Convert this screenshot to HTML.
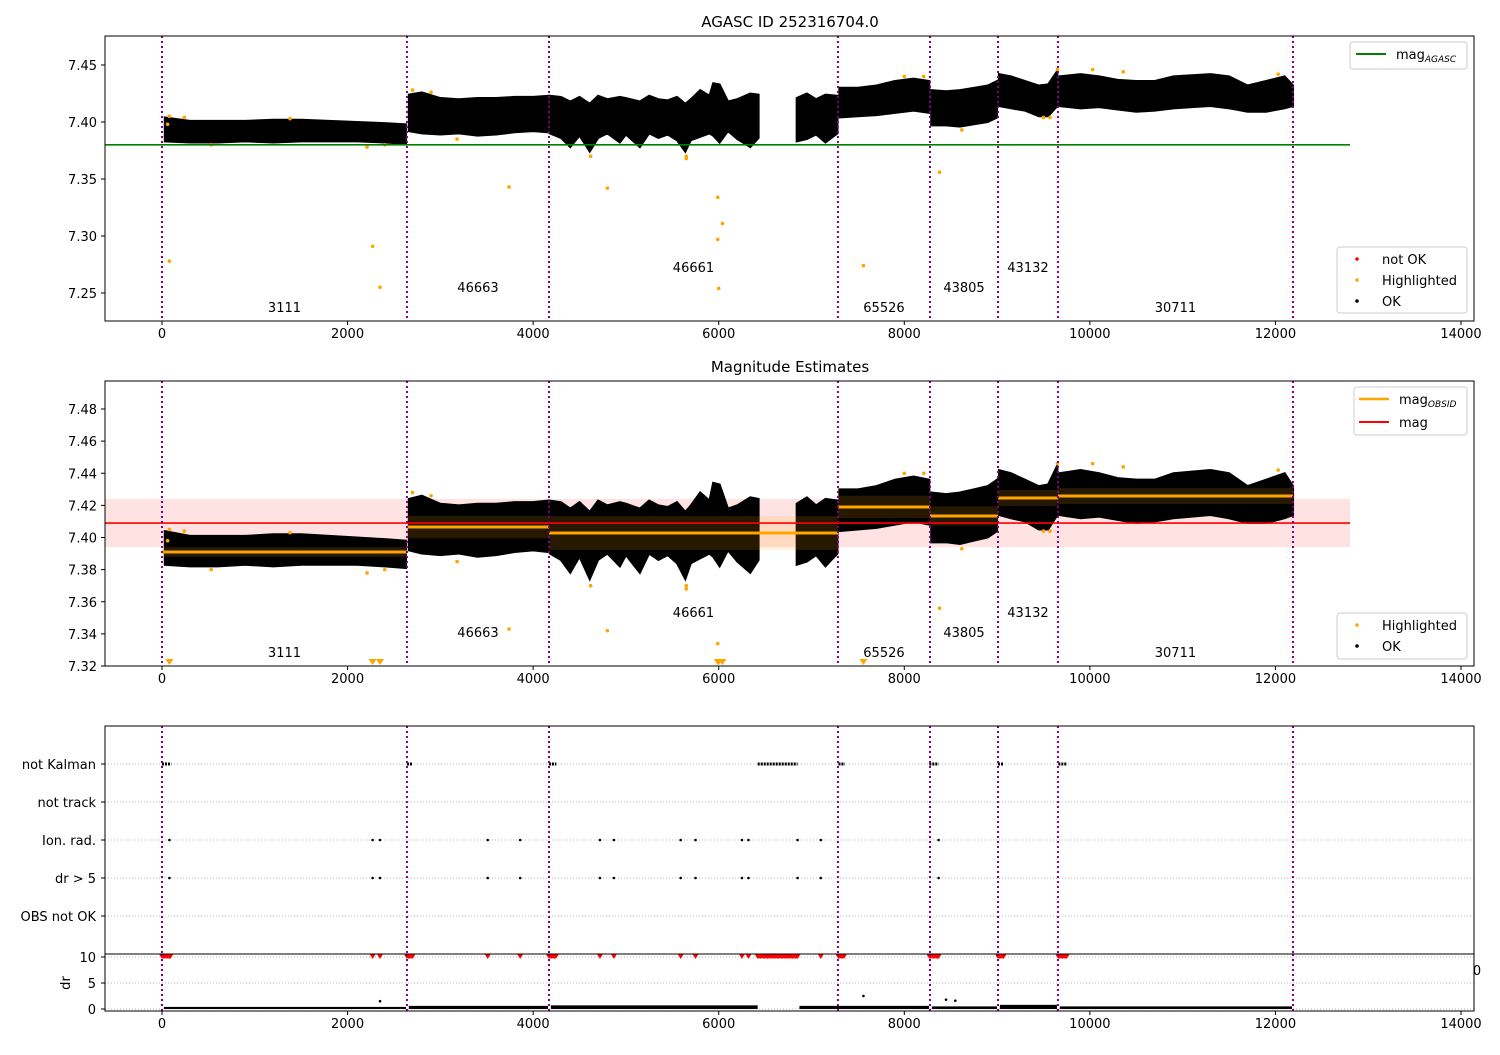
<!DOCTYPE html>
<html><head><meta charset="utf-8"><style>
html,body{margin:0;padding:0;background:#fff}
svg{font-family:"DejaVu Sans","Liberation Sans",sans-serif}
</style></head><body>
<svg id="c" width="1500" height="1050" viewBox="0 0 1500 1050" xmlns="http://www.w3.org/2000/svg"></svg>
<script>
// ---- data ----
const segT=[[30,300,600,900,1200,1500,1800,2100,2400,2630],[2660,2800,3000,3200,3400,3600,3800,4000,4160],
[4180,4300,4400,4500,4610,4700,4800,4935,5000,5150,5250,5350,5450,5550,5640,5700,5800,5900,5940,6010,6100,6200,6340,6430],
[6840,6950,7050,7150,7280],[7300,7500,7700,7900,8100,8270],[8290,8450,8600,8750,8900,9000],[9020,9150,9300,9450,9550,9650],
[9670,9900,10100,10300,10500,10700,10900,11100,11300,11500,11700,11900,12100,12190]];
const segHi=[[7.404,7.401,7.401,7.401,7.402,7.402,7.401,7.400,7.399,7.398],[7.424,7.426,7.421,7.420,7.421,7.421,7.422,7.422,7.423],
[7.423,7.422,7.418,7.422,7.416,7.423,7.420,7.422,7.421,7.418,7.423,7.420,7.419,7.422,7.416,7.420,7.428,7.423,7.434,7.433,7.418,7.420,7.425,7.424],
[7.421,7.425,7.420,7.424,7.423],[7.430,7.430,7.432,7.436,7.438,7.436],[7.428,7.427,7.428,7.430,7.432,7.436],[7.442,7.440,7.436,7.432,7.433,7.445],
[7.440,7.442,7.440,7.437,7.436,7.436,7.440,7.441,7.442,7.440,7.432,7.436,7.440,7.432]];
const segLo=[[7.383,7.382,7.382,7.383,7.382,7.383,7.383,7.383,7.382,7.381],[7.392,7.390,7.389,7.390,7.388,7.389,7.391,7.392,7.391],
[7.390,7.386,7.378,7.388,7.374,7.386,7.390,7.382,7.389,7.378,7.390,7.386,7.389,7.384,7.374,7.384,7.387,7.390,7.388,7.382,7.392,7.385,7.378,7.386],
[7.383,7.385,7.389,7.382,7.390],[7.404,7.405,7.406,7.408,7.410,7.408],[7.397,7.397,7.396,7.398,7.400,7.404],[7.414,7.412,7.410,7.405,7.405,7.414],
[7.414,7.412,7.413,7.411,7.409,7.410,7.412,7.413,7.414,7.412,7.409,7.409,7.412,7.414]];
const obsBounds=[0,2640,4171,7285,8277,9010,9656,12189];
const obsIds=["3111","46663","46661","65526","43805","43132","30711"];
const obsStart=[0,2640,4171,7285,8277,9010,9656];
const obsEnd=[2640,4171,7285,8277,9010,9656,12189];
const obsMag=[7.391,7.4065,7.4028,7.419,7.4134,7.4246,7.4258];
const obsErr=[0.003,0.007,0.0105,0.007,0.006,0.005,0.005];
const magMean=7.409, magErr=0.015, magAgasc=7.380;
const hlT=[80,80,60,2270,2350,3740,4800,5990,6040,5990,6000,7560,8380,8620,5650,5650,4620,3180,2900,2700,8210,8000,9500,9570,9650,10030,10360,12030,530,2210,2400,1380,240];
const hlM=[7.405,7.278,7.398,7.291,7.255,7.343,7.342,7.334,7.311,7.297,7.254,7.274,7.356,7.393,7.370,7.368,7.370,7.385,7.426,7.428,7.440,7.440,7.404,7.404,7.446,7.446,7.444,7.442,7.380,7.378,7.380,7.403,7.404];
const kalmanRanges=[[0,100],[2640,2700],[4170,4250],[6420,6850],[7290,7360],[8270,8370],[9010,9070],[9660,9750]];
const ionT=[80,2270,2350,3510,3860,4720,4870,5590,5750,6250,6320,6850,7100,8370];
const drSegLo=[0,0,0,0,0,0,0,0];
const drSegHi=[0.4,0.6,0.7,0.6,0.5,0.8,0.5,0.6];
const drSpikeT=[2350,7560,8450,8550];
const drSpikeV=[1.5,2.5,1.8,1.6];
const xTicks=[0,2000,4000,6000,8000,10000,12000,14000];
const y1Ticks=[7.25,7.30,7.35,7.40,7.45];
const y2Ticks=[7.32,7.34,7.36,7.38,7.40,7.42,7.44,7.46,7.48];
const flagRows=["not Kalman","not track","Ion. rad.","dr > 5","OBS not OK"];

// ---- scales ----
const L=105,R=1474;
const xs=t=>162+t*0.092786;
const y1=m=>65+(7.45-m)*1140;
const y2=m=>409+(7.48-m)*1606.25;
const fy=i=>764+i*38;
const yd=v=>1009-v*5.2;
const svg=document.getElementById('c');
const NS='http://www.w3.org/2000/svg';
function el(tag,attrs,parent){const e=document.createElementNS(NS,tag);for(const k in attrs)e.setAttribute(k,attrs[k]);(parent||svg).appendChild(e);return e;}
function txt(x,y,s,anchor,size,parent){const e=el('text',{x:x,y:y,'text-anchor':anchor||'middle','font-size':size||13,fill:'#000'},parent);e.textContent=s;return e;}

// clip paths
const defs=el('defs',{});
[[36,285,'c1'],[381,285,'c2'],[726,285,'c3']].forEach(([t,h,id])=>{const cp=el('clipPath',{id:id},defs);el('rect',{x:L,y:t,width:R-L,height:h},cp);});

function xAxis(yb,name){
  const g=el('g',{});
  
  
  xTicks.forEach(t=>{el('line',{x1:xs(t),x2:xs(t),y1:yb,y2:yb+4,stroke:'#000'},g);txt(xs(t),yb+17,String(t),'middle',13,g);});
}
function vlines(top,bot,g){obsBounds.forEach(t=>{el('line',{x1:xs(t),x2:xs(t),y1:top,y2:bot,stroke:'purple','stroke-width':2,'stroke-dasharray':'2,3'},g);});}
function band(ys,g){
  segT.forEach((ts,i)=>{
    let p=ts.map((t,j)=>xs(t)+','+ys(segHi[i][j]));
    for(let j=ts.length-1;j>=0;j--)p.push(xs(ts[j])+','+ys(segLo[i][j]));
    const e=el('polygon',{points:p.join(' '),fill:'#000',stroke:'#000','stroke-width':2},g);
    
    
  });
}
function labels(g,base){
  const off=[0,-20,-40,0,-20,-40,0];
  obsIds.forEach((s,i)=>{const t=(obsStart[i]+obsEnd[i])/2;txt(xs(t),base+off[i],s,'middle',13,g);});
}

// ---- Panel 1 ----
txt(790,27,'AGASC ID 252316704.0','middle',15);
let g1=el('g',{'clip-path':'url(#c1)'});


band(y1,g1);
hlT.forEach((t,i)=>{const c=el('circle',{cx:xs(t),cy:y1(hlM[i]),r:1.8,fill:'orange'},g1);});
el('line',{x1:L,x2:1350,y1:y1(magAgasc),y2:y1(magAgasc),stroke:'green','stroke-width':1.6},g1);
vlines(36,321,g1);
labels(g1,312);
el('rect',{x:L,y:36,width:R-L,height:285,fill:'none',stroke:'#000'});
y1Ticks.forEach(m=>{el('line',{x1:L-4,x2:L,y1:y1(m),y2:y1(m),stroke:'#000'});txt(L-8,y1(m)+5,m.toFixed(2),'end');});
xAxis(321,'x-axis-top');
// legends panel1
let lg=el('g',{});
el('rect',{x:1350,y:42,width:117,height:27,rx:3,fill:'#fff',stroke:'#ccc'},lg);
el('line',{x1:1356,x2:1386,y1:54,y2:54,stroke:'green','stroke-width':2},lg);
let t1=txt(1396,59,'mag','start',13,lg);const ts1=el('tspan',{'font-size':9,dy:3,'font-style':'italic'},t1);ts1.textContent='AGASC';
let lg2=el('g',{});
el('rect',{x:1337,y:247,width:130,height:66,rx:3,fill:'#fff',stroke:'#ccc'},lg2);
[['red','not OK',259],['orange','Highlighted',280],['#000','OK',301]].forEach(([c,s,y])=>{el('circle',{cx:1357,cy:y,r:1.8,fill:c},lg2);txt(1382,y+5,s,'start',13,lg2);});

// ---- Panel 2 ----
txt(790,372,'Magnitude Estimates','middle',15);
let g2=el('g',{'clip-path':'url(#c2)'});


el('rect',{x:L,y:y2(magMean+magErr),width:1350-L,height:y2(magMean-magErr)-y2(magMean+magErr),fill:'rgba(255,0,0,0.11)'},g2);
band(y2,g2);
obsMag.forEach((m,i)=>{el('rect',{x:xs(obsStart[i]),y:y2(m+obsErr[i]),width:xs(obsEnd[i])-xs(obsStart[i]),height:y2(m-obsErr[i])-y2(m+obsErr[i]),fill:'rgba(255,165,0,0.15)'},g2);});
obsMag.forEach((m,i)=>{const e=el('line',{x1:xs(obsStart[i]),x2:xs(obsEnd[i]),y1:y2(m),y2:y2(m),stroke:'orange','stroke-width':3},g2);});
el('line',{x1:L,x2:1350,y1:y2(magMean),y2:y2(magMean),stroke:'red','stroke-width':1.6},g2);
hlT.forEach((t,i)=>{const m=hlM[i];if(m<7.321){const x=xs(t),y=663;el('polygon',{points:`${x-4},${y-4} ${x+4},${y-4} ${x},${y+2}`,fill:'orange'},g2);}else el('circle',{cx:xs(t),cy:y2(m),r:1.8,fill:'orange'},g2);});
vlines(381,666,g2);
labels(g2,657);
el('rect',{x:L,y:381,width:R-L,height:285,fill:'none',stroke:'#000'});
y2Ticks.forEach(m=>{el('line',{x1:L-4,x2:L,y1:y2(m),y2:y2(m),stroke:'#000'});txt(L-8,y2(m)+5,m.toFixed(2),'end');});
xAxis(666,'x-axis-middle');
let lg3=el('g',{});
el('rect',{x:1354,y:387,width:113,height:48,rx:3,fill:'#fff',stroke:'#ccc'},lg3);
el('line',{x1:1359,x2:1389,y1:399,y2:399,stroke:'orange','stroke-width':2.5},lg3);
let t3=txt(1399,404,'mag','start',13,lg3);const ts3=el('tspan',{'font-size':9,dy:3,'font-style':'italic'},t3);ts3.textContent='OBSID';
el('line',{x1:1359,x2:1389,y1:422,y2:422,stroke:'red','stroke-width':2},lg3);
txt(1399,427,'mag','start',13,lg3);
let lg4=el('g',{});
el('rect',{x:1337,y:613,width:130,height:46,rx:3,fill:'#fff',stroke:'#ccc'},lg4);
[['orange','Highlighted',625],['#000','OK',646]].forEach(([c,s,y])=>{el('circle',{cx:1357,cy:y,r:1.8,fill:c},lg4);txt(1382,y+5,s,'start',13,lg4);});

// ---- Panel 3 flags ----
let g3=el('g',{});
flagRows.forEach((s,i)=>{el('line',{x1:L,x2:R,y1:fy(i),y2:fy(i),stroke:'#bbb','stroke-dasharray':'1,2'},g3);el('line',{x1:L-4,x2:L,y1:fy(i),y2:fy(i),stroke:'#000'},g3);txt(L-9,fy(i)+5,s,'end',13,g3);});
kalmanRanges.forEach(([a,b])=>{el('line',{x1:xs(a),x2:xs(b),y1:fy(0),y2:fy(0),stroke:'#000','stroke-width':3,'stroke-dasharray':'2,1'},g3);});
ionT.forEach(t=>{el('circle',{cx:xs(t),cy:fy(2),r:1.3,fill:'#000'},g3);el('circle',{cx:xs(t),cy:fy(3),r:1.3,fill:'#000'},g3);});
vlines(726,954,g3);
el('rect',{x:L,y:726,width:R-L,height:228,fill:'none',stroke:'#000'});
txt(1477,975,'0','middle',13);

// ---- Panel 4 dr ----
let g4=el('g',{});
[0,5,10].forEach(v=>{el('line',{x1:L,x2:R,y1:yd(v),y2:yd(v),stroke:'#bbb','stroke-dasharray':'1,2'},g4);el('line',{x1:L-4,x2:L,y1:yd(v),y2:yd(v),stroke:'#000'},g4);txt(L-9,yd(v)+5,String(v),'end',13,g4);});
const tr=(x,y)=>`${x-3},${y-3} ${x+3},${y-3} ${x},${y+2}`;
kalmanRanges.forEach(([a,b])=>{for(let t=a;t<=b;t+=15)el('polygon',{points:tr(xs(t),yd(10)),fill:'red'},g4);});
ionT.forEach(t=>el('polygon',{points:tr(xs(t),yd(10)),fill:'red'},g4));
obsStart.forEach((a,i)=>{const s=(i==3?6850:a)+20;const e=(i==2?6430:obsEnd[i])-10;el('rect',{x:xs(s),y:yd(drSegHi[i]),width:xs(e)-xs(s),height:yd(drSegLo[i])-yd(drSegHi[i]),fill:'#000'},g4);});
drSpikeT.forEach((t,i)=>el('circle',{cx:xs(t),cy:yd(drSpikeV[i]),r:1.3,fill:'#000'},g4));
vlines(954,1011,g4);
el('rect',{x:L,y:954,width:R-L,height:57,fill:'none',stroke:'#000'});
const yl=txt(70,983,'dr','middle',13);yl.setAttribute('transform','rotate(-90 70 983)');
xAxis(1011,'x-axis-bottom');
</script>
</body></html>
